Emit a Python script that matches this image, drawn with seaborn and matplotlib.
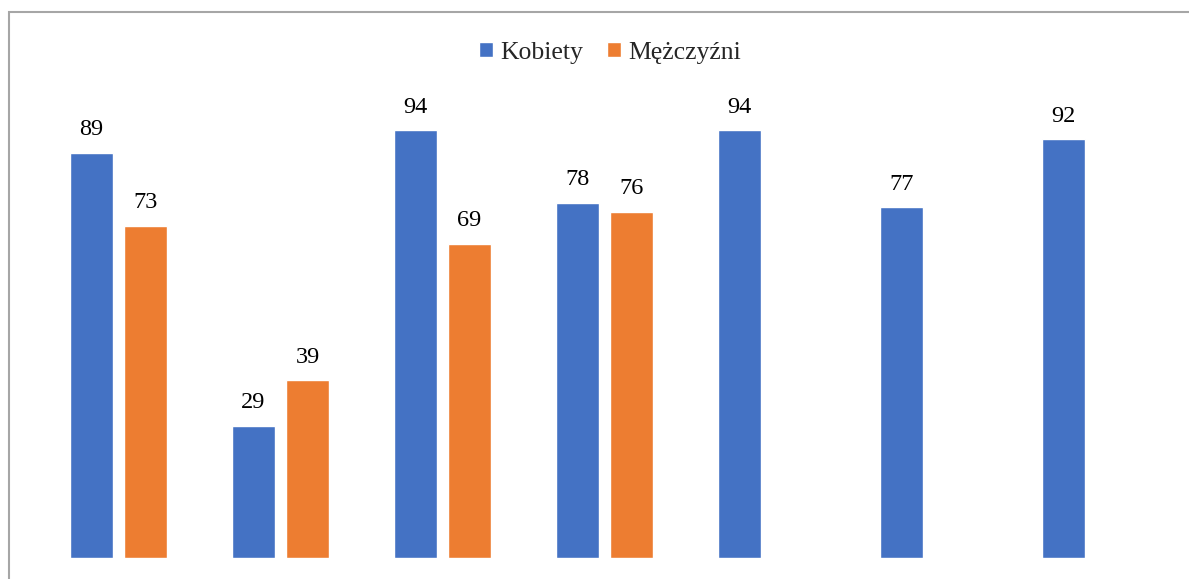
import matplotlib
matplotlib.use("Agg")
import matplotlib.pyplot as plt
import seaborn as sns
import pandas as pd
import numpy as np
from matplotlib.patches import Rectangle

categories = ["1", "2", "3", "4", "5", "6", "7"]
series = ["Kobiety", "Mężczyźni"]
kobiety = [89, 29, 94, 78, 94, 77, 92]
mezczyzni = [73, 39, 69, 76, np.nan, np.nan, np.nan]
colors = ["#4472C4", "#ED7D31"]

df = pd.DataFrame({
    "cat": categories * 2,
    "series": [series[0]] * len(categories) + [series[1]] * len(categories),
    "val": kobiety + mezczyzni,
})

sns.set_style("white")
plt.rcParams["font.family"] = ["Liberation Serif", "DejaVu Serif"]

W, H = 1189, 579
fig = plt.figure(figsize=(W / 100, H / 100), dpi=100)
ax = fig.add_axes([37.5 / W, 21 / H, 1134 / W, 455.3 / H])

sns.barplot(data=df, x="cat", y="val", hue="series", order=categories,
            hue_order=series, palette=colors, saturation=1,
            width=0.667, gap=0.2037, ax=ax, legend=True)

ax.set_xlim(-0.5, len(categories) - 0.5)
ax.set_ylim(0, 100)
for c in ax.containers:
    ax.bar_label(c, fmt="%.0f", padding=9, fontsize=17.5, color="#000000")

ax.set_xlabel("")
ax.set_ylabel("")
ax.set_xticks([])
ax.set_yticks([])
for s in ax.spines.values():
    s.set_visible(False)

handles, labels = ax.get_legend_handles_labels()
ax.get_legend().remove()
fig.legend(handles, labels, loc="center", bbox_to_anchor=(610 / W, 1 - 52.5 / H),
           ncol=2, frameon=False, fontsize=18.5, handlelength=0.52,
           handleheight=0.52, handletextpad=0.28, columnspacing=0.95)

fig.patches.append(Rectangle((8.5 / W, -0.1), 1.2, 1.1 - 12.5 / H + 0.0,
                             transform=fig.transFigure, fill=False,
                             edgecolor="#A6A6A6", linewidth=1.5))

fig.savefig("out.png", dpi=100)
